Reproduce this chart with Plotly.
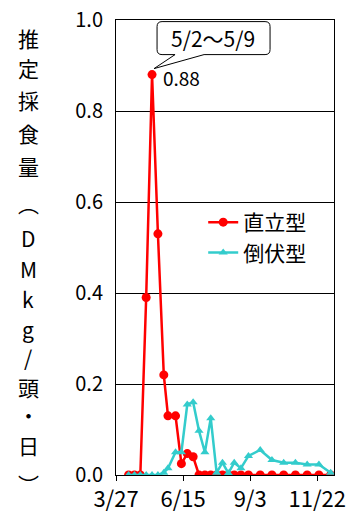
import plotly.graph_objects as go

# ---- data ----
dates = ["2001-04-11", "2001-04-18", "2001-04-25", "2001-05-02", "2001-05-09",
         "2001-05-16", "2001-05-23", "2001-05-28", "2001-06-06", "2001-06-13",
         "2001-06-20", "2001-06-27", "2001-07-04", "2001-07-11", "2001-07-18",
         "2001-07-25", "2001-08-01", "2001-08-08", "2001-08-15", "2001-08-23",
         "2001-09-01", "2001-09-15", "2001-09-29", "2001-10-13", "2001-10-27",
         "2001-11-10", "2001-11-24", "2001-12-08"]
upright = [0, 0, 0, 0.39, 0.88, 0.53, 0.22, 0.13, 0.13, 0.025,
           0.047, 0.04, 0, 0, 0, 0, 0, 0, 0, 0,
           0, 0, 0, 0, 0, 0, 0, 0]
prostrate = [0, 0, 0, 0, 0, 0, 0.005, 0.015, 0.05, 0.05,
             0.155, 0.16, 0.097, 0.05, 0.125, 0.005, 0.027, 0.004, 0.027, 0.015,
             0.042, 0.055, 0.033, 0.027, 0.027, 0.023, 0.023, 0.005]
series_names = ["直立型", "倒伏型"]
x_tickvals = ["2001-03-27", "2001-06-15", "2001-09-03", "2001-11-22"]
x_ticktext = ["3/27", "6/15", "9/3", "11/22"]
x_range = ["2001-03-27", "2001-12-12"]
y_title_chars = ["推", "定", "採", "食", "量", "︵", "D", "M", "k", "g", "/", "頭", "・", "日", "︶"]
peak_period = "5/2～5/9"

FONT = "Noto Sans CJK JP"
RED = "#FF0000"
CYAN = "#33CCCC"

W, H = 346, 522
ML, MR, MT, MB = 116, 12, 20, 47
PH = H - MT - MB
# vertical pixel centres of the stacked y-title characters (layout only)
title_ypix = [38, 68, 100, 133, 166, 203, 238, 269, 299, 329, 357, 387, 415, 445, 484]

fig = go.Figure()
fig.add_trace(go.Scatter(
    x=dates, y=upright, name=series_names[0], mode="lines+markers",
    line=dict(color=RED, width=2.5),
    marker=dict(symbol="circle", size=9, color=RED),
))
fig.add_trace(go.Scatter(
    x=dates, y=prostrate, name=series_names[1], mode="lines+markers",
    line=dict(color=CYAN, width=2.5),
    marker=dict(symbol="triangle-up", size=8, color=CYAN),
))

# peak callout
pk = max(range(len(upright)), key=lambda i: upright[i])
px_, py_ = dates[pk], upright[pk]
fig.add_shape(
    type="path", xref="x", yref="y", xsizemode="pixel", ysizemode="pixel",
    xanchor=px_, yanchor=py_,
    path=("M 23,20 L 2,6 L 52,20 L 113,20 Q 118,20 118,25 L 118,48 "
          "Q 118,53 113,53 L 10,53 Q 5,53 5,48 L 5,25 Q 5,20 10,20 Z"),
    line=dict(color="black", width=1), fillcolor="white", layer="above",
)
fig.add_annotation(x=px_, y=py_, xref="x", yref="y", text=peak_period,
                   showarrow=False, xanchor="center", yanchor="middle",
                   xshift=61, yshift=37, font=dict(family=FONT, size=21, color="black"))
fig.add_annotation(x=px_, y=py_, xref="x", yref="y", text=f"{py_:.2f}",
                   showarrow=False, xanchor="left", yanchor="middle",
                   xshift=9, yshift=-3, font=dict(family=FONT, size=19, color="black"))

# vertical y-axis title, one character per line
for ch, ypix in zip(y_title_chars, title_ypix):
    fig.add_annotation(x=(28 - ML) / (W - ML - MR), y=(H - MB - ypix) / PH,
                       xref="paper", yref="paper", text=ch, showarrow=False,
                       xanchor="center", yanchor="middle",
                       font=dict(family=FONT, size=21, color="black"))

fig.update_layout(
    width=W, height=H,
    margin=dict(l=ML, r=MR, t=MT, b=MB, pad=0, autoexpand=False),
    paper_bgcolor="white", plot_bgcolor="white",
    font=dict(family=FONT, color="black"),
    showlegend=True,
    legend=dict(x=0.40, y=0.60, xanchor="left", yanchor="top",
                bgcolor="rgba(255,255,255,0)", font=dict(family=FONT, size=21),
                itemwidth=30, tracegroupgap=0),
    xaxis=dict(type="date", range=x_range, tickvals=x_tickvals, ticktext=x_ticktext,
               showgrid=False, showline=True, linecolor="black", linewidth=1, mirror=True,
               ticks="outside", ticklen=5, tickcolor="black", automargin=False,
               tickfont=dict(family=FONT, size=22, color="black"), zeroline=False),
    yaxis=dict(range=[0, 1.0], dtick=0.2, tickformat=".1f",
               showgrid=True, gridcolor="black", gridwidth=1, automargin=False,
               showline=True, linecolor="black", linewidth=1, mirror=True,
               ticks="", ticklabelstandoff=8,
               tickfont=dict(family=FONT, size=20, color="black"),
               zeroline=False),
)

fig.write_html("out.html", config={"displayModeBar": False},
               post_script="document.body.style.margin='0';document.body.style.overflow='hidden';")
